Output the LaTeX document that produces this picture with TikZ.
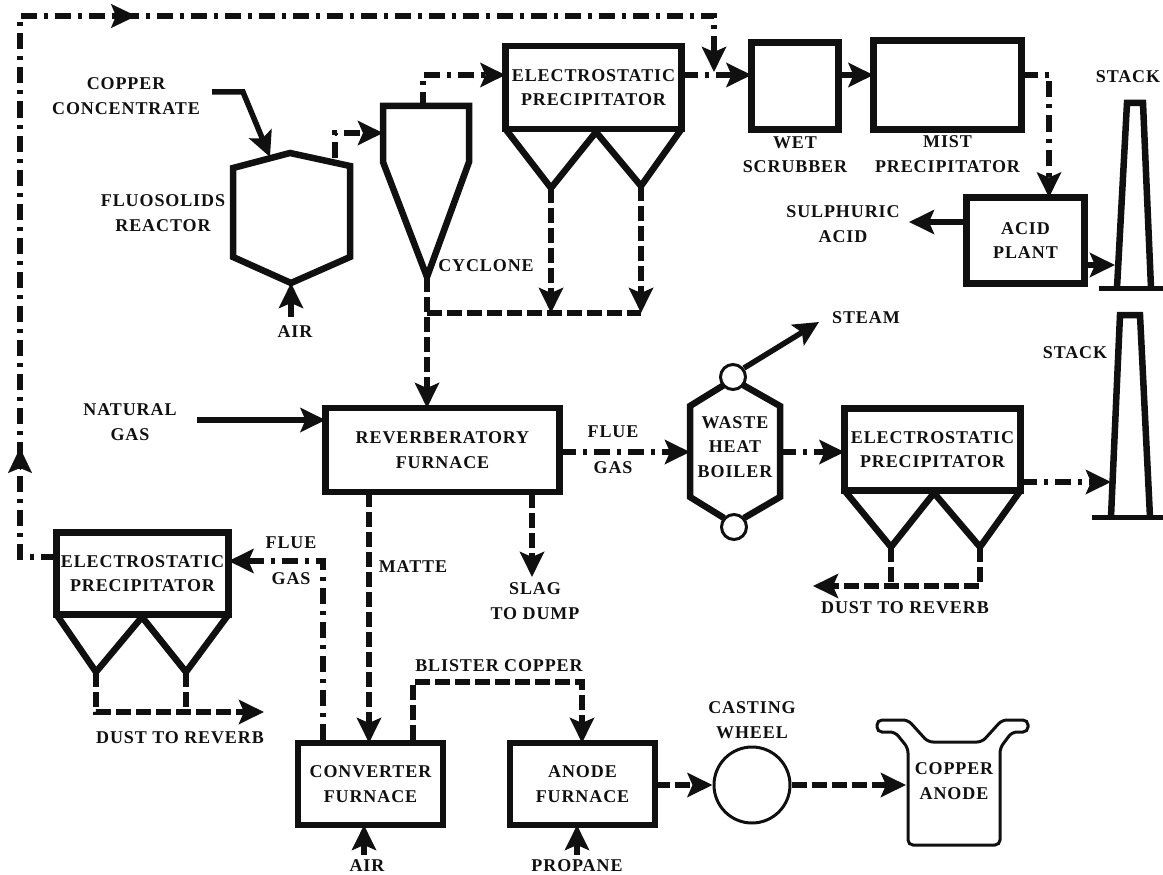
\documentclass[tikz,border=0pt]{standalone}
\usepackage{fontspec}
\setmainfont{Liberation Serif}
\newfontfamily\labfont[LetterSpace=5]{Liberation Serif}
\usetikzlibrary{arrows.meta,positioning,calc}
\definecolor{ink}{HTML}{101010}

\begin{document}
\begin{tikzpicture}[
  x=1pt, y=-1pt, node distance=4pt,
  lab/.style={inner sep=0pt, align=center, text=ink, font=\labfont\fontsize{18}{24.5}\selectfont\bfseries},
  unit/.style={draw=ink, line width=6.5pt, inner sep=0pt, outer sep=0pt, lab},
  epbox/.style={unit, minimum width=176pt, minimum height=84pt},
  furn/.style={unit, minimum width=145pt, minimum height=82pt},
  shell/.style={draw=ink, line width=6.5pt, line join=miter},
  thin shell/.style={draw=ink, line width=3pt},
  head/.style={-{Stealth[length=25pt,width=24pt,inset=5pt]}},
  solidflow/.style={draw=ink, line width=5.5pt, head},
  gasflow/.style={draw=ink, line width=6pt, head, dash pattern=on 16pt off 7pt on 4pt off 7pt},
  solidflowmid/.style={draw=ink, line width=0.1pt, head},
  dustflow/.style={draw=ink, line width=6pt, head, dash pattern=on 15pt off 5pt},
  dustline/.style={draw=ink, line width=6pt, dash pattern=on 15pt off 5pt}
]
\useasboundingbox (0,0) rectangle (1163,875);

% rows and columns the flow lines run along
\coordinate (toprow) at (0,75);
\coordinate (midrow) at (0,452);
\coordinate (castrow) at (0,785);

% process units
\node[epbox, minimum height=83pt] (ep1) at (593.5,87.5) {ELECTROSTATIC\\PRECIPITATOR};
\node[unit, minimum width=87pt, minimum height=87pt] (wet) at (795,86) {};
\node[unit, minimum width=148pt, minimum height=89pt] (mist) at (947.5,85) {};
\node[unit, minimum width=118pt, minimum height=86pt] (acid) at (1025.5,240.5) {ACID\\PLANT};
\node[unit, minimum width=234pt, minimum height=84pt] (reverb) at (442.5,450) {REVERBERATORY\\FURNACE};
\node[epbox, minimum width=176pt, minimum height=82pt] (ep2) at (932.5,449.5) {ELECTROSTATIC\\PRECIPITATOR};
\node[epbox, minimum width=172pt, minimum height=82pt] (ep3) at (142.5,573.5) {ELECTROSTATIC\\PRECIPITATOR};
\node[furn] (conv) at (370.5,784) {CONVERTER\\FURNACE};
\node[furn] (anode) at (582.5,784) {ANODE\\FURNACE};
\node[circle, thin shell, inner sep=0pt, minimum size=76pt] (wheel) at (752,785) {};

% hoppers under the precipitators
\draw[shell] (ep1.south west) -- (551,188) coordinate (ep1a) -- (596,132) -- (641,186) coordinate (ep1b) -- (ep1.south east);
\draw[shell] (ep2.south west) -- (891,547) coordinate (ep2a) -- (934,493) -- (980,547) coordinate (ep2b) -- (ep2.south east);
\draw[shell] (ep3.south west) -- (96,672) coordinate (ep3a) -- (142,617) -- (186,672) coordinate (ep3b) -- (ep3.south east);

% reactor, cyclone, boiler, stacks
\draw[shell] (233,168) -- (290,153) coordinate (rtop) -- (350,166) coordinate (rgas) -- (350,257) -- (291,283) coordinate (rtip) -- (233,257) -- cycle;
\draw[shell] (383,106) coordinate (cycl) -- (469,106) -- (469,162) -- (427,277) coordinate (cyctip) -- (383,162) -- cycle;
\draw[shell] (724,385) -- (690,406) -- (690,497) -- (724,518);
\draw[shell] (743,385) -- (780,406) -- (780,497) -- (744,518);
\node[circle, thin shell, fill=white, inner sep=0pt, minimum size=25pt] (drumtop) at (733,377) {};
\node[circle, thin shell, fill=white, inner sep=0pt, minimum size=25pt] (drumlow) at (734,527) {};
\node[lab, align=center] at (735,447) {WASTE\\HEAT\\BOILER};
\draw[shell] (1117,288) -- (1127,103) -- (1143,103) -- (1151,288);
\draw[shell, line width=5pt] (1099,288) coordinate (st1) -- (1163,288);
\draw[shell] (1111,517) -- (1120,315) -- (1140,315) -- (1150,517);
\draw[shell, line width=5pt] (1092,517) coordinate (st2) -- (1163,517);

% copper anode mould
\draw[thin shell, rounded corners=5pt] (877,732) -- (877,720) -- (908,720) -- (928,742) -- (982,742) -- (1002,720) -- (1028,720) -- (1028,732) -- (1012,732) -- (1000,748) -- (1000,845) -- (908,845) -- (908,748) -- (895,732) -- cycle;
\node[lab] at (954,781) {COPPER\\ANODE};

% gas lines
\draw[gasflow] (335,158) -- (335,133) -- (383,133);
\draw[gasflow] (423,104) -- (cycl -| 423,75) |- (ep1.west |- toprow);
\draw[gasflow] (ep1.east |- toprow) -- (wet.west |- toprow);
\draw[gasflow] (wet.east |- toprow) -- (mist.west |- toprow);
\draw[gasflow] (mist.east |- toprow) -| (acid.north -| 1049,195);
\draw[solidflow] (acid.east |- 0,265) -- (1115,265);
\draw[gasflow] (reverb.east |- midrow) -- (690,452);
\draw[gasflow] (780,452) -- (ep2.west |- midrow);
\draw[gasflow] (ep2.east |- 0,482) -- (1111,482);
\draw[gasflow] (323,740) |- (ep3.east |- 0,561);
\draw[gasflow] (ep3.west |- 0,557) -- (20,557) -- (20,16) -- (714,16) -- (714,72);
\draw[solidflowmid] (20,470) -- (20,448);
\draw[solidflowmid] (113,16) -- (136,16);

% plain lines
\draw[solidflow] (212,92) -- (243,92) -- (270,157);
\draw[solidflow] (rtip |- 0,317) -- (rtip);
\draw[solidflow] (197,420) -- (reverb.west |- 0,420);
\draw[solidflow] (acid.west |- 0,222) -- (909,222);
\draw[solidflow] (drumtop) ++(11,-9) -- (819,322);
\draw[solidflow] (364,855) -- (conv.south -| 364,828);
\draw[solidflow] (577,855) -- (anode.south -| 577,828);

% solids lines
\draw[dustflow] (cyctip) -- (reverb.north -| 427,408);
\draw[dustline] (427,313) -- (641,313);
\draw[dustflow] (ep1a) -- (551,313);
\draw[dustflow] (ep1b) -- (641,313);
\draw[dustflow] (369,492) -- (conv.north -| 369,740);
\draw[dustflow] (532,493) -- (532,577);
\draw[dustflow] (413,740) |- (582,682) -- (anode.north -| 582,740);
\draw[dustflow] (anode.east |- castrow) -- (wheel.west);
\draw[dustflow] (wheel.east) -- (906,785);
\draw[dustflow] (ep2b) |- (813,586);
\draw[dustline] (ep2a) -- (ep2a |- 0,586);
\draw[dustflow] (ep3a) |- (264,712);
\draw[dustline] (ep3b) -- (ep3b |- 0,712);

% labels
\node[lab] at (126,96) {COPPER\\CONCENTRATE};
\node[lab] at (163,213) {FLUOSOLIDS\\REACTOR};
\node[lab] at (295,332) {AIR};
\node[lab] at (486,266) {CYCLONE};
\node[lab, below=7pt of wet] {WET\\SCRUBBER};
\node[lab, below=6pt of mist] {MIST\\PRECIPITATOR};
\node[lab] at (1128,77) {STACK};
\node[lab] at (843,224) {SULPHURIC\\ACID};
\node[lab] at (866,318) {STEAM};
\node[lab] at (1075,353) {STACK};
\node[lab] at (130,422) {NATURAL\\GAS};
\node[lab] at (613,450) {FLUE\\[1.4ex]GAS};
\node[lab] at (291,561) {FLUE\\[1.4ex]GAS};
\node[lab] at (413,567) {MATTE};
\node[lab] at (535,601) {SLAG\\TO DUMP};
\node[lab] at (905,608) {DUST TO REVERB};
\node[lab] at (180,738) {DUST TO REVERB};
\node[lab] at (499,666) {BLISTER COPPER};
\node[lab] at (752,720) {CASTING\\WHEEL};
\node[lab] at (367,866) {AIR};
\node[lab] at (577,866) {PROPANE};
\end{tikzpicture}
\end{document}
